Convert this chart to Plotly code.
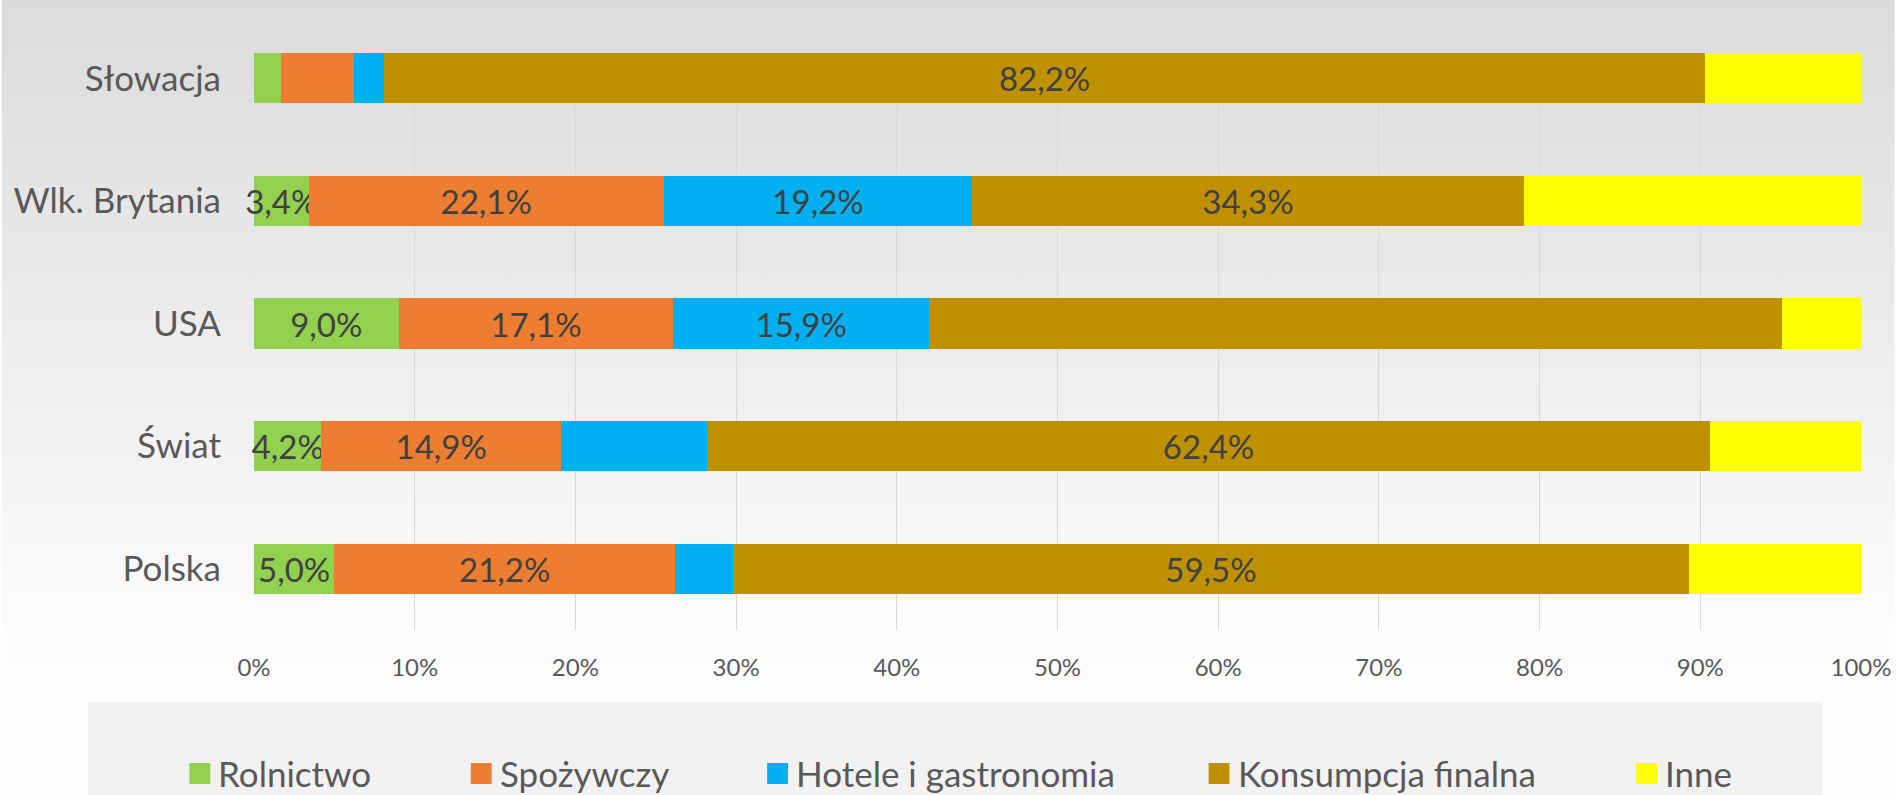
import base64
import plotly.graph_objects as go

countries = ["Polska", "Świat", "USA", "Wlk. Brytania", "Słowacja"]
series = ["Rolnictwo", "Spożywczy", "Hotele i gastronomia", "Konsumpcja finalna", "Inne"]
colors = ["#92d050", "#ed7d31", "#00b0f0", "#bf9000", "#ffff00"]

rolnictwo = [5.0, 4.2, 9.0, 3.4, 1.7]
spozywczy = [21.2, 14.9, 17.1, 22.1, 4.5]
hotele = [3.6, 9.1, 15.9, 19.2, 1.9]
konsumpcja = [59.5, 62.4, 53.1, 34.3, 82.2]
inne = [10.7, 9.4, 4.9, 21.0, 9.7]

# segments that carry a data label in the original chart
show_rolnictwo = [True, True, True, True, False]
show_spozywczy = [True, True, True, True, False]
show_hotele = [False, False, True, True, False]
show_konsumpcja = [True, True, False, True, True]
show_inne = [False, False, False, False, False]

x_ticks = list(range(0, 101, 10))

values = [rolnictwo, spozywczy, hotele, konsumpcja, inne]
shows = [show_rolnictwo, show_spozywczy, show_hotele, show_konsumpcja, show_inne]

W, H = 1904, 795
L, R, T, B = 254, 34, 17, 165
PW, PH = W - L - R, H - T - B
FONT = "Lato, 'Open Sans', sans-serif"


def px_x(p):
    return (p - L) / PW


def px_y(p):
    return (H - B - p) / PH


def label(v, show):
    return (f"{v:.1f}".replace(".", ",") + "%") if show else ""


fig = go.Figure()
for name, vals, show, col in zip(series, values, shows, colors):
    fig.add_trace(go.Bar(
        y=countries, x=vals, name=name, orientation="h",
        marker=dict(color=col, line=dict(width=0)),
        text=[label(v, s) for v, s in zip(vals, show)],
        textposition="inside", insidetextanchor="middle",
        textangle=0, constraintext="none", cliponaxis=False,
        insidetextfont=dict(family=FONT, size=33, color="#404040"),
        showlegend=False,
    ))

# background gradient of the original slide
svg = ('<svg xmlns="http://www.w3.org/2000/svg" width="1904" height="795" preserveAspectRatio="none">'
       '<defs><linearGradient id="g" x1="0" y1="0" x2="0" y2="1">'
       '<stop offset="0" stop-color="#dbdbdb"/><stop offset="0.79" stop-color="#fcfcfc"/>'
       '<stop offset="1" stop-color="#fefefe"/></linearGradient></defs>'
       '<rect width="1904" height="795" fill="url(#g)"/></svg>')
src = "data:image/svg+xml;base64," + base64.b64encode(svg.encode()).decode()

shapes = [dict(type="rect", xref="paper", yref="paper", layer="above",
               x0=px_x(87), x1=px_x(1831), y0=px_y(702), y1=px_y(800),
               fillcolor="#f2f2f2", line=dict(width=0))]
annotations = []
legend_x = [189, 472, 770, 1214, 1644]
for name, col, lx in zip(series, colors, legend_x):
    shapes.append(dict(type="rect", xref="paper", yref="paper", layer="above",
                       x0=px_x(lx), x1=px_x(lx + 21), y0=px_y(763), y1=px_y(784),
                       fillcolor=col, line=dict(width=0)))
    annotations.append(dict(xref="paper", yref="paper", x=px_x(lx + 27), y=px_y(773),
                            xanchor="left", yanchor="middle", showarrow=False, text=name,
                            font=dict(family=FONT, size=35, color="#595959")))

fig.update_layout(
    width=W, height=H, barmode="stack", bargap=0.59,
    margin=dict(l=L, r=R, t=T, b=B),
    paper_bgcolor="white", plot_bgcolor="rgba(0,0,0,0)",
    font=dict(family=FONT, color="#595959"),
    uniformtext=dict(mode="show", minsize=33),
    images=[dict(source=src, xref="paper", yref="paper", x=-L / PW, y=1 + T / PH,
                 sizex=W / PW, sizey=H / PH, xanchor="left", yanchor="top",
                 sizing="stretch", layer="below")],
    shapes=shapes, annotations=annotations,
    xaxis=dict(range=[0, 100], tickvals=x_ticks, ticktext=[f"{t}%" for t in x_ticks],
               showgrid=True, gridcolor="#d9d9d9", gridwidth=1, zeroline=False,
               showline=False, ticks="", ticklabelstandoff=21,
               tickfont=dict(family=FONT, size=24, color="#595959")),
    yaxis=dict(categoryorder="array", categoryarray=countries, showgrid=False,
               zeroline=False, showline=False, ticks="", ticklabelstandoff=32,
               tickfont=dict(family=FONT, size=35, color="#595959")),
)

fig.write_html("out.html", config={"displayModeBar": False},
               post_script="document.body.style.margin='0';document.body.style.overflow='hidden';")
